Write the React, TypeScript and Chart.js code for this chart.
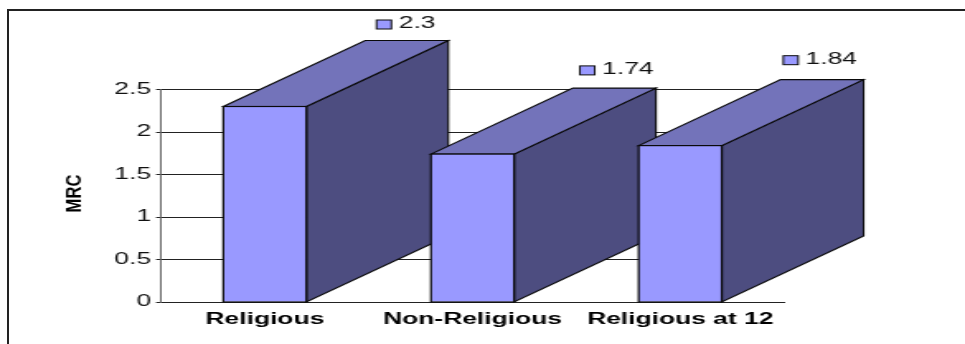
import React, { useEffect, useRef } from "react";
import { Chart, registerables } from "chart.js";

Chart.register(...registerables);

const categories = ["Religious", "Non-Religious", "Religious at 12"];
const values = [2.3, 1.74, 1.84];
const valueLabels = ["2.3", "1.74", "1.84"];
const axisTitle = "MRC";

const FRONT = "#9999ff";
const SIDE = "#4d4d80";
const TOP = "#7373ba";
const INK = "#0a0a0a";
const FONT = '"Liberation Sans", Arial, sans-serif';

// The chart is laid out on a narrow canvas that is widened to the full page.
const CANVAS_W = 585;
const CANVAS_H = 344;
const WIDEN = 965 / CANVAS_W;
const DEPTH_X = 86;
const DEPTH_Y = 66;

// Extruded top and side faces, painted left to right behind the bar fronts,
// followed by a crisp outline around each front once the bars are drawn.
const extrusion = {
  id: "extrusion",
  beforeDatasetsDraw(chart: any) {
    const { ctx } = chart;
    const base = chart.scales.y.getPixelForValue(0);
    chart.getDatasetMeta(0).data.forEach((bar: any) => {
      const left = bar.x - bar.width / 2;
      const right = bar.x + bar.width / 2;
      const top = bar.y;
      ctx.save();
      ctx.lineWidth = 1.1;
      ctx.strokeStyle = INK;
      ctx.lineJoin = "miter";
      ctx.fillStyle = SIDE;
      ctx.beginPath();
      ctx.moveTo(right, top);
      ctx.lineTo(right + DEPTH_X, top - DEPTH_Y);
      ctx.lineTo(right + DEPTH_X, base - DEPTH_Y);
      ctx.lineTo(right, base);
      ctx.closePath();
      ctx.fill();
      ctx.stroke();
      ctx.fillStyle = TOP;
      ctx.beginPath();
      ctx.moveTo(left, top);
      ctx.lineTo(left + DEPTH_X, top - DEPTH_Y);
      ctx.lineTo(right + DEPTH_X, top - DEPTH_Y);
      ctx.lineTo(right, top);
      ctx.closePath();
      ctx.fill();
      ctx.stroke();
      ctx.restore();
    });
  },
  afterDatasetsDraw(chart: any) {
    const { ctx } = chart;
    const base = chart.scales.y.getPixelForValue(0);
    chart.getDatasetMeta(0).data.forEach((bar: any) => {
      ctx.save();
      ctx.lineWidth = 1.2;
      ctx.strokeStyle = INK;
      ctx.strokeRect(bar.x - bar.width / 2, bar.y, bar.width, base - bar.y);
      ctx.restore();
    });
  },
};

// Value captions with a small colour key, plus the rotated axis title.
const captions = {
  id: "captions",
  afterDraw(chart: any) {
    const { ctx } = chart;
    chart.getDatasetMeta(0).data.forEach((bar: any, i: number) => {
      const keyX = bar.x + 67.7 - 2.6 * i;
      const keyY = bar.y - 86.5 - 1.7 * i;
      ctx.save();
      ctx.fillStyle = FRONT;
      ctx.strokeStyle = INK;
      ctx.lineWidth = 1;
      ctx.fillRect(keyX, keyY, 9, 9);
      ctx.strokeRect(keyX, keyY, 9, 9);
      ctx.fillStyle = "#111";
      ctx.font = `16px ${FONT}`;
      ctx.textBaseline = "middle";
      ctx.fillText(valueLabels[i], keyX + 13.5, keyY + 4);
      ctx.restore();
    });
    ctx.save();
    ctx.translate(45.5, 193.5);
    ctx.rotate(-Math.PI / 2);
    ctx.scale(1.28, 1);
    ctx.fillStyle = "#000";
    ctx.font = `bold 13px ${FONT}`;
    ctx.textAlign = "center";
    ctx.textBaseline = "middle";
    ctx.fillText(axisTitle, 0, 0);
    ctx.restore();
  },
};

export default function App() {
  const ref = useRef<HTMLCanvasElement | null>(null);

  useEffect(() => {
    const chart = new Chart(ref.current!, {
      type: "bar",
      data: {
        labels: categories,
        datasets: [
          {
            data: values,
            backgroundColor: FRONT,
            borderWidth: 0,
            barPercentage: 0.4,
            categoryPercentage: 1,
          },
        ],
      },
      options: {
        animation: false,
        responsive: false,
        devicePixelRatio: 1,
        layout: { padding: { left: 0, top: 89.5, right: 109.7, bottom: 0 } },
        plugins: { legend: { display: false }, tooltip: { enabled: false } },
        scales: {
          x: {
            grid: { display: false },
            border: { display: true, color: "#222", width: 1 },
            ticks: {
              autoSkip: false,
              maxRotation: 0,
              padding: 0,
              color: "#000",
              font: { family: FONT, size: 16, weight: "bold" },
            },
            afterFit(scale: any) {
              scale.height = 42;
            },
          },
          y: {
            min: 0,
            max: 2.5,
            grid: { color: "#222", lineWidth: 1, tickLength: 3 },
            border: { display: true, color: "#666", width: 1 },
            ticks: {
              stepSize: 0.5,
              padding: 3,
              color: "#111",
              font: { family: FONT, size: 16 },
              callback: (v: any) => String(v),
            },
            afterFit(scale: any) {
              scale.width = 97.6;
            },
          },
        },
      },
      plugins: [extrusion, captions],
    } as any);
    return () => chart.destroy();
  }, []);

  return (
    <div
      style={{
        position: "fixed",
        left: 0,
        top: 0,
        width: 965,
        height: 344,
        overflow: "hidden",
        background: "#fff",
      }}
    >
      <div
        style={{
          position: "absolute",
          left: 7,
          top: 9,
          width: 965,
          height: 344,
          borderLeft: "2px solid #222",
          borderTop: "2px solid #222",
        }}
      />
      <canvas
        ref={ref}
        width={CANVAS_W}
        height={CANVAS_H}
        style={{
          position: "absolute",
          left: 0,
          top: 0,
          transform: `scaleX(${WIDEN})`,
          transformOrigin: "0 0",
        }}
      />
    </div>
  );
}
